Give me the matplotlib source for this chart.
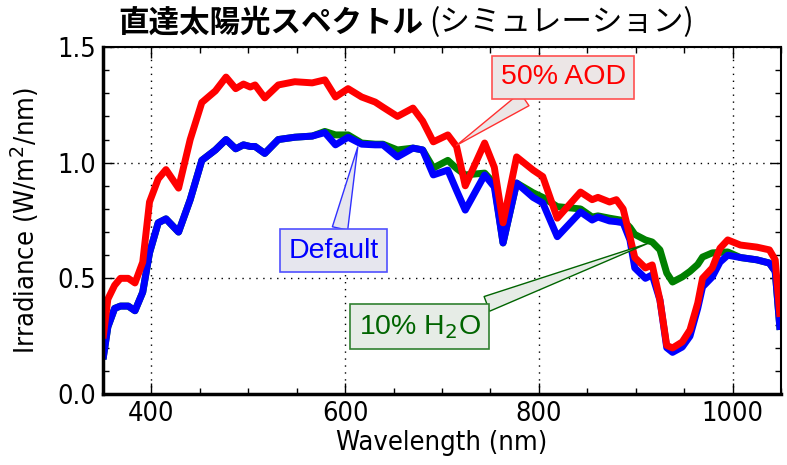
import matplotlib
matplotlib.use("Agg")
import matplotlib.pyplot as plt
from matplotlib.ticker import MultipleLocator, FormatStrFormatter

wavelength = [350, 355, 362, 368, 376, 383, 391, 398, 407, 415, 428, 440, 452, 466, 477, 487,
              495, 502, 507, 517, 531, 548, 566, 579, 590, 603, 617, 631, 639, 654, 670, 680,
              691, 706, 715, 724, 744, 754, 763, 777, 794, 804, 819, 843, 855, 861, 873, 880,
              887, 894, 899, 910, 917, 925, 932, 938, 948, 956, 964, 969, 979, 987, 995, 1008,
              1025, 1038, 1044, 1049]
default = [0.15, 0.29, 0.37, 0.38, 0.38, 0.36, 0.44, 0.61, 0.74, 0.757, 0.70, 0.84, 1.01, 1.055, 1.10, 1.06,
           1.077, 1.07, 1.07, 1.04, 1.10, 1.11, 1.115, 1.13, 1.077, 1.11, 1.08, 1.077, 1.077, 1.025, 1.063, 1.055,
           0.947, 0.968, 0.88, 0.795, 0.947, 0.895, 0.653, 0.912, 0.85, 0.826, 0.68, 0.787, 0.752, 0.765, 0.748, 0.745,
           0.74, 0.666, 0.545, 0.50, 0.515, 0.406, 0.20, 0.18, 0.203, 0.25, 0.37, 0.463, 0.506, 0.57, 0.60, 0.59,
           0.58, 0.566, 0.53, 0.277]
h2o_10 = [0.15, 0.29, 0.37, 0.38, 0.38, 0.36, 0.44, 0.61, 0.74, 0.757, 0.70, 0.84, 1.01, 1.055, 1.10, 1.06,
          1.077, 1.07, 1.07, 1.04, 1.10, 1.11, 1.115, 1.135, 1.12, 1.12, 1.085, 1.08, 1.08, 1.055, 1.063, 1.055,
          0.977, 1.01, 0.975, 0.947, 0.955, 0.91, 0.653, 0.912, 0.87, 0.85, 0.81, 0.80, 0.765, 0.77, 0.76, 0.755,
          0.75, 0.72, 0.69, 0.666, 0.657, 0.623, 0.523, 0.484, 0.506, 0.53, 0.56, 0.592, 0.61, 0.612, 0.614, 0.59,
          0.58, 0.566, 0.53, 0.277]
aod_50 = [0.24, 0.41, 0.47, 0.50, 0.50, 0.48, 0.57, 0.83, 0.93, 0.97, 0.89, 1.10, 1.26, 1.31, 1.37, 1.32,
          1.34, 1.327, 1.336, 1.28, 1.336, 1.35, 1.345, 1.358, 1.284, 1.32, 1.284, 1.262, 1.24, 1.20, 1.236, 1.18,
          1.09, 1.12, 1.07, 0.90, 1.085, 0.98, 0.74, 1.025, 0.968, 0.94, 0.76, 0.873, 0.84, 0.85, 0.83, 0.84,
          0.80, 0.68, 0.59, 0.545, 0.558, 0.406, 0.21, 0.199, 0.225, 0.277, 0.393, 0.50, 0.545, 0.63, 0.666, 0.644,
          0.635, 0.623, 0.58, 0.333]

labels = ["10% H$_2$O", "Default", "50% AOD"]

fig = plt.figure(figsize=(7.87, 4.65), dpi=100)
ax = fig.add_axes([0.1309, 0.1527, 0.8615, 0.7462])

ax.plot(wavelength, h2o_10, color="#008000", lw=5, solid_capstyle="butt")
ax.plot(wavelength, default, color="#0000ff", lw=5, solid_capstyle="butt")
ax.plot(wavelength, aod_50, color="#ff0000", lw=5, solid_capstyle="butt")

ax.set_xlim(350, 1050)
ax.set_ylim(0, 1.5)
ax.xaxis.set_major_locator(MultipleLocator(200))
ax.xaxis.set_minor_locator(MultipleLocator(50))
ax.yaxis.set_major_locator(MultipleLocator(0.5))
ax.yaxis.set_minor_locator(MultipleLocator(0.1))
ax.yaxis.set_major_formatter(FormatStrFormatter("%.1f"))
ax.tick_params(which="both", direction="in", top=True, right=True, width=1)
ax.tick_params(which="major", length=8, labelsize=19.5, pad=5)
ax.tick_params(which="minor", length=4)
for lab in ax.get_xticklabels() + ax.get_yticklabels():
    lab.set_fontstretch("condensed")
for name, s in ax.spines.items():
    s.set_linewidth(2.5 if name in ("left", "bottom") else 1.5)
ax.grid(True, which="major", color="black", linestyle=(0, (1, 4)), lw=1)

ax.set_xlabel("Wavelength (nm)", fontsize=19.5, fontstretch="condensed", labelpad=2)
ax.set_ylabel("Irradiance (W/m$^2$/nm)", fontsize=19.5, fontstretch="condensed", labelpad=12)

jp = ["Noto Sans CJK JP", "DejaVu Sans"]
t1 = fig.text(118 / 787, 1 - 23 / 465, "直達太陽光スペクトル", family=jp, fontsize=22,
              fontweight="bold", va="center", ha="left")
fig.canvas.draw()
bb = t1.get_window_extent()
fig.text(bb.x1 / 787 + 6 / 787, 1 - 23 / 465, "(シミュレーション)", family=jp, fontsize=22,
         fontweight="normal", va="center", ha="left")

box_font = ["Liberation Sans", "DejaVu Sans"]
ax.annotate(labels[2], xy=(715, 1.075), xytext=(825, 1.37), textcoords="data",
            color="#ff0000", fontsize=20.5, family=box_font, ha="center", va="center",
            bbox=dict(boxstyle="square,pad=0.3", fc="#ece6e6", ec="#ff5050", lw=1.2),
            arrowprops=dict(arrowstyle="wedge,tail_width=0.55", fc="#ece6e6", ec="#ff3030",
                            lw=1, shrinkA=0, shrinkB=0, relpos=(0.3, 0.0)))
ax.annotate(labels[1], xy=(613, 1.068), xytext=(588, 0.62), textcoords="data",
            color="#0000ff", fontsize=20.5, family=box_font, ha="center", va="center",
            bbox=dict(boxstyle="square,pad=0.3", fc="#e6e6ee", ec="#5050ff", lw=1.2),
            arrowprops=dict(arrowstyle="wedge,tail_width=0.55", fc="#e6e6ee", ec="#3030ff",
                            lw=1, shrinkA=0, shrinkB=0, relpos=(0.55, 1.0)))
ax.annotate(labels[0], xy=(912, 0.65), xytext=(677, 0.29), textcoords="data",
            color="#006400", fontsize=20.5, family=box_font, ha="center", va="center",
            bbox=dict(boxstyle="square,pad=0.3", fc="#e6ece6", ec="#308030", lw=1.2),
            arrowprops=dict(arrowstyle="wedge,tail_width=0.55", fc="#e6ece6", ec="#006400",
                            lw=1, shrinkA=0, shrinkB=0, relpos=(0.85, 1.0)))

fig.savefig("out.png", dpi=100)
